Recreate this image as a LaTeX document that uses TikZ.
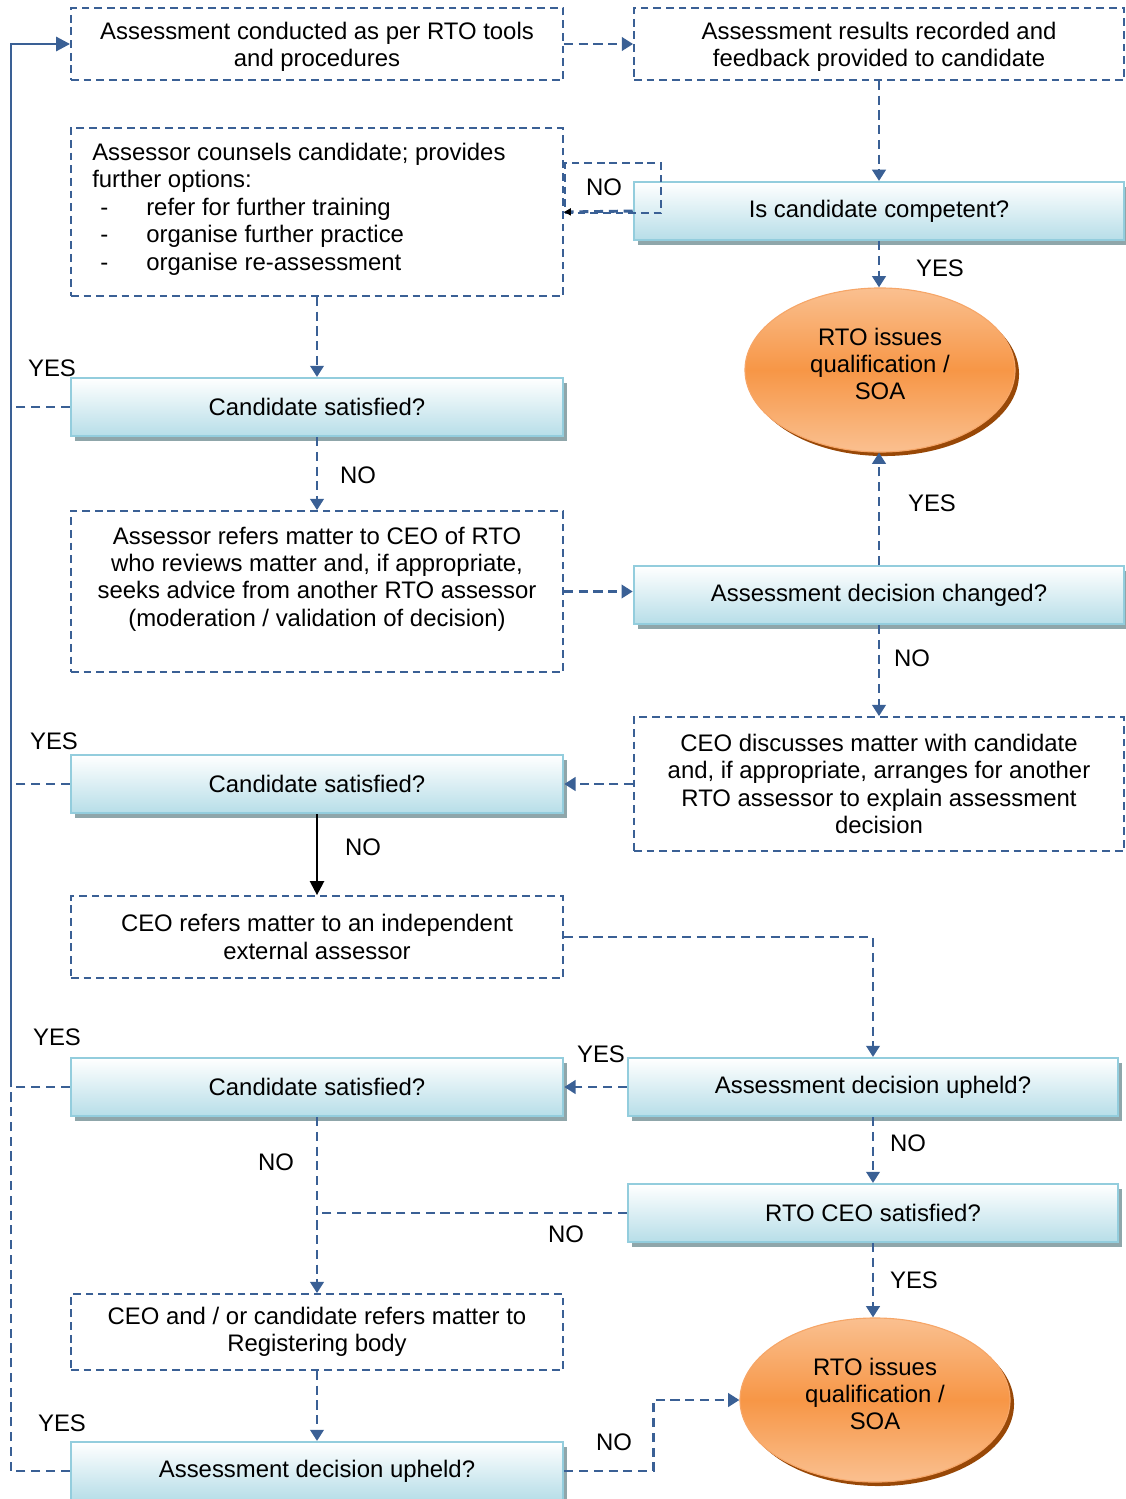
\documentclass[tikz,border=0pt]{standalone}
\usepackage{fontspec}
\setmainfont{Liberation Sans}
\usepackage{xcolor}
\usetikzlibrary{arrows.meta,shadows,shapes.geometric}
\definecolor{lineblue}{HTML}{3A6095}
\definecolor{decborder}{HTML}{93CDDD}
\definecolor{decfill}{HTML}{B7DEE8}
\definecolor{decshadow}{HTML}{8FA6AA}
\definecolor{ormid}{HTML}{F79646}
\definecolor{orlight}{HTML}{FAC090}
\definecolor{orline}{HTML}{F6A668}
\definecolor{orshadow}{HTML}{984807}

\begin{document}
\begin{tikzpicture}[x=0.025cm, y=-0.025cm,
        font=\fontsize{17}{19.5}\selectfont,
        dashbox/.style={draw=lineblue, line width=1.2pt, dash pattern=on 5.5pt off 3.5pt,
            minimum width=12.3cm, align=center, inner sep=0pt},
        decision/.style={draw=decborder, line width=1.7pt, top color=white, bottom color=decfill,
            minimum width=12.3cm, minimum height=1.44cm,
            general shadow={fill=decshadow, shadow xshift=0.1cm, shadow yshift=-0.12cm}},
        outcome/.style={ellipse, draw=orline, line width=0.8pt, top color=orlight,
            bottom color=orlight, middle color=ormid, minimum width=6.75cm, minimum height=4.1cm,
            align=center, general shadow={fill=orshadow, shadow xshift=0.1cm, shadow yshift=-0.1cm}},
        flow/.style={draw=lineblue, line width=2.1pt, dash pattern=on 6.5pt off 4pt,
            -{Triangle[length=8pt,width=9.5pt]}},
        link/.style={flow, -},
        tag/.style={inner sep=0pt}]
    \useasboundingbox (0,0) rectangle (1125,1499);

    % boxes, top to bottom
    \node[dashbox, minimum height=1.8cm] (conduct) at (317,44) {};
    \node[tag, align=center] (conducttxt) at (317,47)
        {Assessment conducted as per RTO tools\\and procedures};
    \node[dashbox, minimum width=12.25cm, minimum height=1.8cm] (record) at (879,44) {};
    \node[tag, align=center] (recordtxt) at (879,47)
        {Assessment results recorded and\\feedback provided to candidate};
    \node[decision, minimum width=12.25cm] (competent) at (879,211) {Is candidate competent?};
    \node[dashbox, minimum height=4.2cm] (counsel) at (317,212) {};
    \node[tag, anchor=west, align=left] (counseltxt) at (92,209)
        {Assessor counsels candidate; provides\\further options:\\
        \makebox[1.35cm][l]{\hspace*{0.2cm}-}refer for further training\\
        \makebox[1.35cm][l]{\hspace*{0.2cm}-}organise further practice\\
        \makebox[1.35cm][l]{\hspace*{0.2cm}-}organise re-assessment};
    \node[dashbox, minimum width=2.4cm, minimum height=1.25cm] (nobox) at (613,188) {};
    \node[outcome] (issue1) at (880,370) {};
    \node[tag, align=center] (issue1txt) at (880,364) {RTO issues\\qualification /\\SOA};
    \node[decision] (sat1) at (317,407) {Candidate satisfied?};
    \node[dashbox, minimum height=4.025cm] (refer) at (317,591.5) {};
    \node[tag, align=center] (refertxt) at (317,579)
        {Assessor refers matter to CEO of RTO\\who reviews matter and, if appropriate,\\
        seeks advice from another RTO assessor\\(moderation / validation of decision)};
    \node[decision, minimum width=12.25cm] (changed) at (879,595) {Assessment decision changed?};
    \node[dashbox, minimum width=12.25cm, minimum height=3.35cm] (discuss) at (879,784)
        {CEO discusses matter with candidate\\and, if appropriate, arranges for another\\
        RTO assessor to explain assessment\\decision};
    \node[decision] (sat2) at (317,784) {Candidate satisfied?};
    \node[dashbox, minimum height=2.05cm] (external) at (317,937)
        {CEO refers matter to an independent\\external assessor};
    \node[decision, minimum width=12.25cm] (upheld) at (873,1087) {Assessment decision upheld?};
    \node[decision] (sat3) at (317,1087) {Candidate satisfied?};
    \node[decision, minimum width=12.25cm] (ceosat) at (873,1213) {RTO CEO satisfied?};
    \node[dashbox, minimum height=1.9cm] (register) at (317,1332)
        {CEO and / or candidate refers matter to\\Registering body};
    \node[outcome] (issue2) at (875,1400) {};
    \node[tag, align=center] (issue2txt) at (875,1394) {RTO issues\\qualification /\\SOA};
    \node[decision] (final) at (317,1471) {Assessment decision upheld?};

    % yes / no labels
    \node[tag] (no1) at (604,187) {NO};
    \node[tag] (yes1) at (940,268) {YES};
    \node[tag] (yes2) at (52,368) {YES};
    \node[tag] (no2) at (358,475) {NO};
    \node[tag] (yes3) at (932,503) {YES};
    \node[tag] (no3) at (912,658) {NO};
    \node[tag] (yes4) at (54,741) {YES};
    \node[tag] (no4) at (363,847) {NO};
    \node[tag] (yes5) at (57,1037) {YES};
    \node[tag] (yes6) at (601,1054) {YES};
    \node[tag] (no5) at (908,1143) {NO};
    \node[tag] (no6) at (276,1162) {NO};
    \node[tag] (no7) at (566,1234) {NO};
    \node[tag] (yes7) at (914,1280) {YES};
    \node[tag] (yes8) at (62,1423) {YES};
    \node[tag] (no8) at (614,1442) {NO};

    % connectors
    \draw[flow] (conduct.east) -- (record.west);
    \draw[flow] (record.south) -- (competent.north);
    \draw[link, -{Triangle[length=5pt,width=5pt,color=black]}] (competent.west) -- (counsel.east);
    \draw[flow] (competent.south) -- (competent.south |- issue1.north);
    \draw[flow] (counsel.south) -- (sat1.north);
    \draw[flow] (sat1.south) -- (refer.north);
    \draw[flow] (refer.east) -- (refer.east -| changed.west);
    \draw[flow] (changed.north) -- (changed.north |- issue1.south);
    \draw[flow] (changed.south) -- (discuss.north);
    \draw[flow] (discuss.west) -- (sat2.east);
    \draw[black, line width=1.6pt, -{Triangle[length=10pt,width=10pt]}] (sat2.south) -- (external.north);
    \draw[flow] (external.east) -| (upheld.north);
    \draw[flow] (upheld.west) -- (sat3.east);
    \draw[flow] (upheld.south) -- (ceosat.north);
    \draw[flow] (sat3.south) -- (register.north);
    \draw[link] (ceosat.west) -- (ceosat.west -| sat3.south);
    \draw[flow] (ceosat.south) -- (ceosat.south |- issue2.north);
    \draw[flow] (register.south) -- (final.north);
    \draw[flow] (final.east) -- ++(89,0) |- (issue2.west);

    % return rail on the left
    \coordinate (rail) at (11,0);
    \draw[link] (sat1.west) -- (sat1.west -| rail);
    \draw[link] (sat2.west) -- (sat2.west -| rail);
    \draw[link] (sat3.west) -- (sat3.west -| rail);
    \draw[link] (final.west) -| (sat3.west -| rail);
    \draw[draw=lineblue, line width=2pt, -{Triangle[length=10pt,width=10pt]}]
        (sat3.west -| rail) |- (conduct.west);
\end{tikzpicture}
\end{document}
